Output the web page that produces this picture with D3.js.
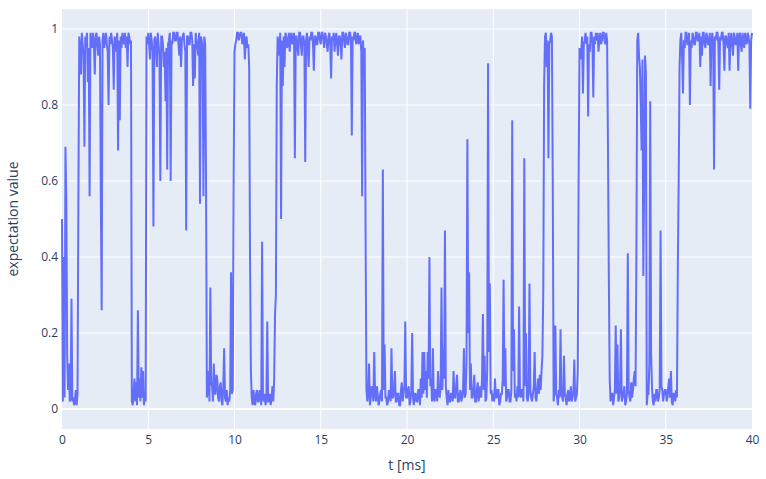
<!DOCTYPE html>
<html>
<head>
<meta charset="utf-8">
<script src="https://cdn.jsdelivr.net/npm/d3@7"></script>
<style>
  body { margin: 0; background: #fff; }
  svg { display: block; font-family: "Open Sans", verdana, arial, sans-serif; }
</style>
</head>
<body>
<svg id="chart" width="766" height="479"></svg>
<script>
// sampling step of the trace, in ms
const dt = 0.05;

// expectation value, one row per ms (20 samples each)
const expectation = [
  0.50, 0.02, 0.40, 0.03, 0.69, 0.55, 0.14, 0.05, 0.12, 0.02, 0.03, 0.29, 0.02, 0.03, 0.01, 0.02, 0.05, 0.01, 0.04, 0.55,
  0.98, 0.95, 0.88, 0.99, 0.96, 0.93, 0.69, 0.98, 0.97, 0.99, 0.86, 0.95, 0.56, 0.99, 0.97, 0.95, 0.99, 0.96, 0.88, 0.98,
  0.99, 0.96, 0.93, 0.98, 0.96, 0.56, 0.26, 0.97, 0.99, 0.95, 0.97, 0.99, 0.96, 0.94, 0.80, 0.98, 0.96, 0.99, 0.97, 0.95,
  0.84, 0.98, 0.97, 0.94, 0.99, 0.68, 0.97, 0.76, 0.98, 0.95, 0.99, 0.97, 0.96, 0.99, 0.95, 0.98, 0.90, 0.99, 0.98, 0.96,
  0.97, 0.02, 0.01, 0.04, 0.08, 0.02, 0.07, 0.01, 0.26, 0.03, 0.08, 0.02, 0.11, 0.03, 0.10, 0.01, 0.04, 0.02, 0.98, 0.96,
  0.99, 0.96, 0.92, 0.99, 0.97, 0.94, 0.48, 0.97, 0.98, 0.95, 0.90, 0.99, 0.96, 0.93, 0.60, 0.98, 0.98, 0.96, 0.90, 0.94,
  0.81, 0.95, 0.63, 0.96, 0.97, 0.99, 0.60, 0.97, 0.96, 0.99, 0.99, 0.97, 0.97, 0.99, 0.99, 0.96, 0.93, 0.98, 0.90, 0.97,
  0.98, 0.99, 0.96, 0.94, 0.47, 0.98, 0.98, 0.96, 0.96, 0.99, 0.99, 0.97, 0.85, 0.96, 0.87, 0.99, 0.97, 0.95, 0.93, 0.99,
  0.54, 0.98, 0.97, 0.95, 0.56, 0.98, 0.96, 0.60, 0.03, 0.05, 0.10, 0.02, 0.32, 0.07, 0.06, 0.02, 0.12, 0.04, 0.04, 0.09,
  0.08, 0.03, 0.02, 0.06, 0.07, 0.02, 0.01, 0.06, 0.16, 0.03, 0.02, 0.05, 0.01, 0.03, 0.02, 0.05, 0.36, 0.04, 0.05, 0.60,
  0.94, 0.96, 0.97, 0.99, 0.99, 0.97, 0.98, 0.99, 0.99, 0.96, 0.97, 0.99, 0.92, 0.97, 0.98, 0.95, 0.96, 0.90, 0.40, 0.10,
  0.03, 0.01, 0.05, 0.02, 0.01, 0.04, 0.05, 0.02, 0.02, 0.05, 0.04, 0.01, 0.44, 0.03, 0.02, 0.04, 0.01, 0.03, 0.23, 0.02,
  0.02, 0.04, 0.01, 0.03, 0.06, 0.02, 0.08, 0.25, 0.30, 0.85, 0.98, 0.96, 0.93, 0.99, 0.50, 0.97, 0.85, 0.98, 0.90, 0.99,
  0.98, 0.95, 0.96, 0.99, 0.94, 0.98, 0.99, 0.96, 0.97, 0.99, 0.66, 0.98, 0.98, 0.95, 0.93, 0.99, 0.99, 0.96, 0.93, 0.98,
  0.98, 0.96, 0.65, 0.97, 0.99, 0.95, 0.90, 0.98, 0.97, 0.99, 0.99, 0.96, 0.89, 0.98, 0.98, 0.96, 0.96, 0.99, 0.99, 0.97,
  0.96, 0.99, 0.99, 0.97, 0.95, 0.99, 0.98, 0.96, 0.94, 0.98, 0.99, 0.96, 0.87, 0.98, 0.97, 0.99, 0.94, 0.97, 0.99, 0.96,
  0.93, 0.98, 0.98, 0.96, 0.92, 0.99, 0.99, 0.97, 0.95, 0.99, 0.98, 0.96, 0.96, 0.99, 0.99, 0.97, 0.72, 0.98, 0.97, 0.99,
  0.99, 0.96, 0.97, 0.99, 0.96, 0.98, 0.98, 0.94, 0.56, 0.97, 0.90, 0.95, 0.45, 0.05, 0.02, 0.04, 0.12, 0.01, 0.03, 0.06,
  0.05, 0.02, 0.15, 0.04, 0.02, 0.06, 0.04, 0.01, 0.02, 0.04, 0.05, 0.02, 0.63, 0.05, 0.17, 0.03, 0.03, 0.01, 0.02, 0.05,
  0.04, 0.02, 0.16, 0.03, 0.03, 0.05, 0.10, 0.02, 0.02, 0.04, 0.04, 0.01, 0.01, 0.05, 0.07, 0.02, 0.04, 0.06, 0.23, 0.03,
  0.03, 0.05, 0.06, 0.01, 0.02, 0.05, 0.20, 0.03, 0.01, 0.04, 0.04, 0.02, 0.02, 0.05, 0.05, 0.01, 0.08, 0.03, 0.15, 0.04,
  0.15, 0.05, 0.10, 0.03, 0.15, 0.08, 0.40, 0.06, 0.08, 0.02, 0.16, 0.03, 0.02, 0.05, 0.05, 0.02, 0.10, 0.04, 0.03, 0.06,
  0.32, 0.05, 0.16, 0.08, 0.47, 0.06, 0.03, 0.01, 0.05, 0.02, 0.02, 0.04, 0.04, 0.02, 0.10, 0.03, 0.03, 0.06, 0.09, 0.02,
  0.02, 0.04, 0.05, 0.02, 0.03, 0.05, 0.16, 0.03, 0.04, 0.12, 0.71, 0.20, 0.36, 0.05, 0.12, 0.03, 0.03, 0.05, 0.09, 0.02,
  0.02, 0.05, 0.07, 0.02, 0.04, 0.06, 0.03, 0.08, 0.25, 0.05, 0.14, 0.02, 0.03, 0.10, 0.91, 0.15, 0.33, 0.04, 0.05, 0.02,
  0.04, 0.02, 0.08, 0.03, 0.03, 0.05, 0.05, 0.01, 0.02, 0.04, 0.04, 0.08, 0.34, 0.06, 0.16, 0.02, 0.03, 0.05, 0.05, 0.02,
  0.02, 0.05, 0.76, 0.10, 0.21, 0.03, 0.04, 0.02, 0.06, 0.03, 0.27, 0.04, 0.03, 0.05, 0.05, 0.02, 0.66, 0.06, 0.20, 0.03,
  0.02, 0.04, 0.33, 0.05, 0.03, 0.02, 0.04, 0.06, 0.15, 0.03, 0.02, 0.05, 0.08, 0.04, 0.09, 0.05, 0.10, 0.14, 0.31, 0.85,
  0.98, 0.99, 0.90, 0.97, 0.66, 0.96, 0.97, 0.99, 0.98, 0.60, 0.02, 0.05, 0.22, 0.04, 0.03, 0.01, 0.05, 0.03, 0.21, 0.04,
  0.03, 0.02, 0.14, 0.04, 0.03, 0.01, 0.04, 0.05, 0.02, 0.03, 0.06, 0.02, 0.03, 0.05, 0.13, 0.02, 0.03, 0.04, 0.10, 0.60,
  0.95, 0.92, 0.94, 0.98, 0.83, 0.96, 0.97, 0.99, 0.96, 0.98, 0.77, 0.96, 0.94, 0.99, 0.99, 0.96, 0.82, 0.98, 0.96, 0.99,
  0.97, 0.99, 0.94, 0.97, 0.99, 0.96, 0.97, 0.99, 0.99, 0.97, 0.96, 0.99, 0.97, 0.70, 0.35, 0.08, 0.02, 0.04, 0.04, 0.01,
  0.03, 0.05, 0.22, 0.04, 0.17, 0.02, 0.03, 0.05, 0.21, 0.02, 0.03, 0.04, 0.06, 0.01, 0.02, 0.04, 0.41, 0.05, 0.03, 0.02,
  0.07, 0.03, 0.05, 0.08, 0.10, 0.06, 0.42, 0.97, 0.99, 0.93, 0.90, 0.80, 0.68, 0.92, 0.35, 0.60, 0.93, 0.88, 0.01, 0.04,
  0.04, 0.12, 0.81, 0.15, 0.06, 0.02, 0.01, 0.04, 0.02, 0.05, 0.05, 0.02, 0.03, 0.05, 0.47, 0.06, 0.05, 0.02, 0.04, 0.05,
  0.05, 0.02, 0.03, 0.06, 0.08, 0.03, 0.10, 0.02, 0.01, 0.04, 0.04, 0.02, 0.05, 0.03, 0.37, 0.60, 0.90, 0.97, 0.99, 0.92,
  0.83, 0.97, 0.95, 0.99, 0.99, 0.96, 0.96, 0.99, 0.80, 0.97, 0.95, 0.99, 0.98, 0.96, 0.96, 0.99, 0.99, 0.97, 0.97, 0.99,
  0.90, 0.98, 0.93, 0.99, 0.99, 0.96, 0.95, 0.99, 0.98, 0.96, 0.96, 0.99, 0.85, 0.97, 0.99, 0.96, 0.63, 0.98, 0.97, 0.99,
  0.99, 0.96, 0.84, 0.98, 0.97, 0.99, 0.99, 0.96, 0.89, 0.98, 0.98, 0.96, 0.95, 0.99, 0.89, 0.97, 0.99, 0.96, 0.93, 0.99,
  0.98, 0.96, 0.96, 0.99, 0.89, 0.98, 0.99, 0.96, 0.94, 0.99, 0.97, 0.95, 0.99, 0.97, 0.96, 0.99, 0.98, 0.96, 0.79, 0.97,
  0.99
];

const xTicks = [0, 5, 10, 15, 20, 25, 30, 35, 40];
const yTicks = [0, 0.2, 0.4, 0.6, 0.8, 1];

const svg = d3.select("svg#chart");
const width = +svg.attr("width");
const height = +svg.attr("height");

const margin = { top: 9, right: 14, bottom: 50, left: 62 };
const plotWidth = width - margin.left - margin.right;
const plotHeight = height - margin.top - margin.bottom;

const points = expectation.map((v, i) => ({ t: i * dt, v: v }));

const x = d3.scaleLinear().domain([0, 40]).range([0, plotWidth]);
const y = d3.scaleLinear().domain([-0.0526, 1.0526]).range([plotHeight, 0]);

const plot = svg.append("g")
    .attr("transform", "translate(" + margin.left + "," + margin.top + ")");

plot.append("rect")
    .attr("width", plotWidth)
    .attr("height", plotHeight)
    .attr("fill", "#E5ECF6");

// grid
plot.append("g").selectAll("line")
    .data(xTicks.filter(d => d > 0 && d < 40))
    .join("line")
    .attr("x1", d => x(d)).attr("x2", d => x(d))
    .attr("y1", 0).attr("y2", plotHeight)
    .attr("stroke", "#fff").attr("stroke-width", 1);

plot.append("g").selectAll("line")
    .data(yTicks)
    .join("line")
    .attr("x1", 0).attr("x2", plotWidth)
    .attr("y1", d => y(d)).attr("y2", d => y(d))
    .attr("stroke", "#fff")
    .attr("stroke-width", d => d === 0 ? 2 : 1);

// trace
const line = d3.line()
    .x(d => x(d.t))
    .y(d => y(d.v));

plot.append("path")
    .attr("d", line(points))
    .attr("fill", "none")
    .attr("stroke", "#636efa")
    .attr("stroke-width", 2);

// axes
const xAxis = d3.axisBottom(x).tickValues(xTicks).tickSize(0).tickPadding(6)
    .tickFormat(d3.format("d"));
const yAxis = d3.axisLeft(y).tickValues(yTicks).tickSize(0).tickPadding(4)
    .tickFormat(d => d === 0 || d === 1 ? String(d) : d3.format(".1f")(d));

const xg = plot.append("g").attr("transform", "translate(0," + plotHeight + ")").call(xAxis);
const yg = plot.append("g").call(yAxis);

[xg, yg].forEach(g => {
    g.select(".domain").remove();
    g.selectAll("text")
        .style("font-family", "\"Open Sans\", verdana, arial, sans-serif")
        .style("font-size", "12px")
        .attr("fill", "#2a3f5f");
});

svg.append("text")
    .attr("x", margin.left + plotWidth / 2)
    .attr("y", 470)
    .attr("text-anchor", "middle")
    .style("font-size", "14px")
    .attr("fill", "#2a3f5f")
    .text("t [ms]");

svg.append("text")
    .attr("transform", "translate(18," + (margin.top + plotHeight / 2) + ") rotate(-90)")
    .attr("text-anchor", "middle")
    .style("font-size", "14px")
    .attr("fill", "#2a3f5f")
    .text("expectation value");
</script>
</body>
</html>
